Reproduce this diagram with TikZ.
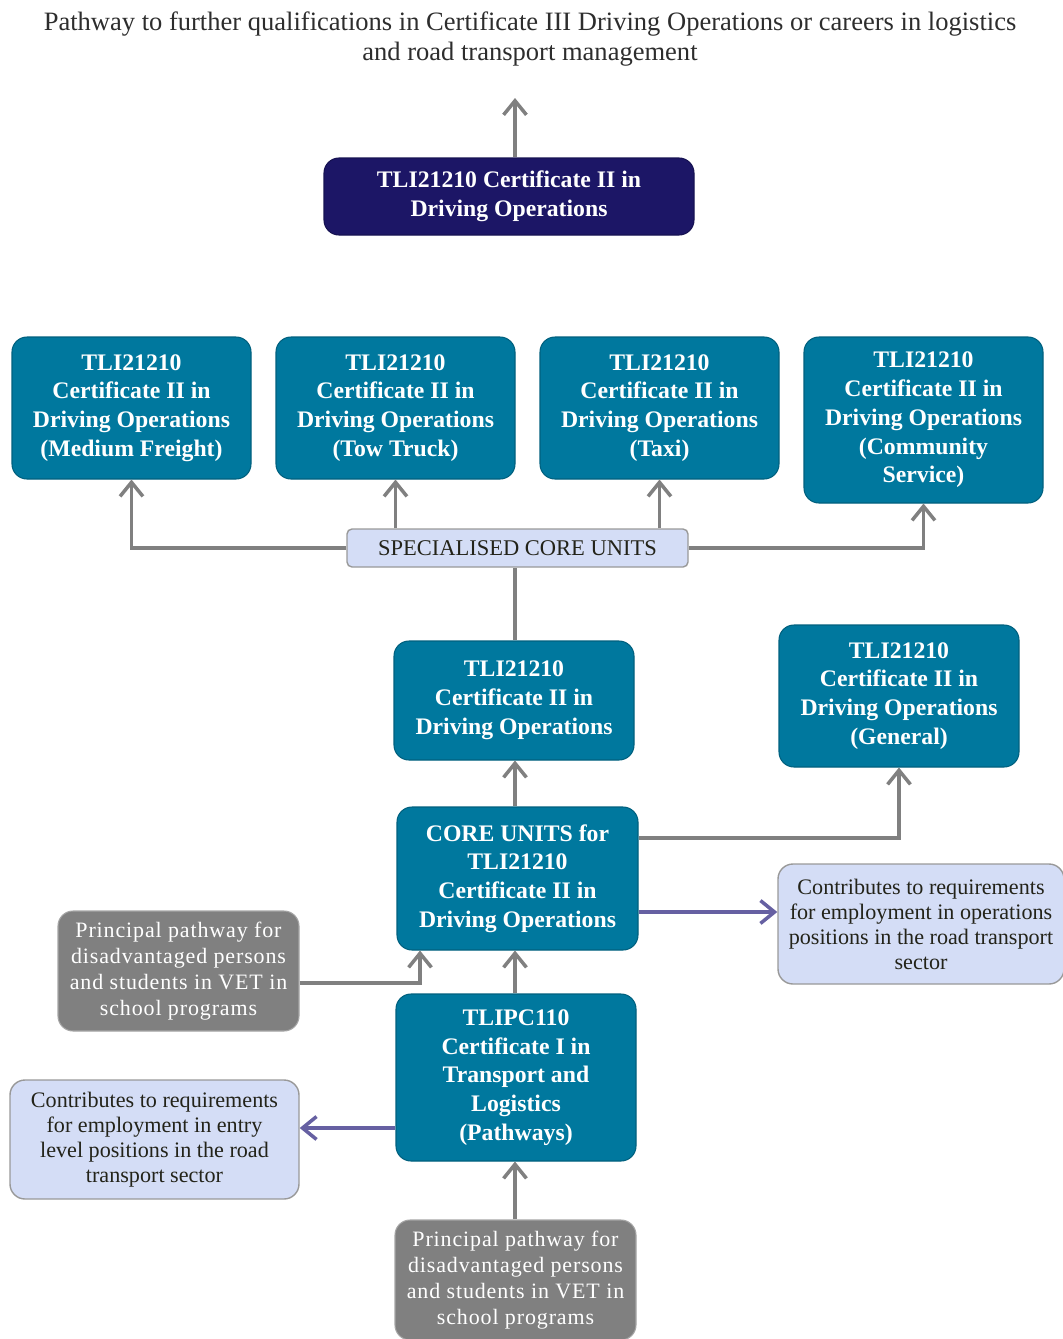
\documentclass[tikz,border=0pt]{standalone}
\usepackage{fontspec}
\setmainfont{Liberation Serif}
\usetikzlibrary{arrows.meta}

\definecolor{tealbox}{RGB}{0,120,158}
\definecolor{navybox}{RGB}{28,22,102}
\definecolor{lightbox}{RGB}{212,221,246}
\definecolor{greybox}{RGB}{128,128,128}
\definecolor{linegrey}{RGB}{128,128,128}
\definecolor{purpleline}{RGB}{102,96,162}

\begin{document}
\begin{tikzpicture}[x=0.02cm, y=-0.02cm,
    cert/.style={draw=tealbox!80!black, line width=0.6pt, fill=tealbox, rounded corners=0.3cm, text=white, align=center, inner sep=0pt,
        font=\fontsize{13.5}{16.4}\selectfont\bfseries},
    topcert/.style={cert, fill=navybox, draw=navybox!80!black},
    note/.style={draw=gray!80, line width=0.8pt, fill=lightbox, rounded corners=0.3cm, text={rgb,255:red,35;green,35;blue,25}, align=center, inner sep=0pt,
        font=\fontsize{12.6}{14.2}\selectfont},
    path/.style={draw=gray!70, line width=0.6pt, fill=greybox, rounded corners=0.3cm, text=white, align=center, inner sep=0pt,
        font=\fontsize{12.5}{14.7}\selectfont\addfontfeatures{LetterSpace=4}},
    link/.style={draw=linegrey, line width=2pt, -{Straight Barb[length=8pt,width=13pt]}},
    plink/.style={link, draw=purpleline},
]
    \useasboundingbox (0,0) rectangle (1062,1339);

    % Title at the top
    \node[align=center, text={rgb,255:red,45;green,45;blue,45}, font=\fontsize{15.1}{17}\selectfont] (title) at (530,39)
        {Pathway to further qualifications in Certificate III Driving Operations or careers in logistics\\and road transport management};
    \coordinate (toptip) at (515,98);

    % qualification boxes
    \node[topcert, minimum width=370*0.02cm, minimum height=77*0.02cm] (navy) at (509,196.5) {TLI21210 Certificate II in\\Driving Operations};
    \node[cert, minimum width=239*0.02cm, minimum height=142*0.02cm] (freight) at (131.5,408) {TLI21210\\Certificate II in\\Driving Operations\\(Medium Freight)};
    \node[cert, minimum width=239*0.02cm, minimum height=142*0.02cm] (tow) at (395.5,408) {TLI21210\\Certificate II in\\Driving Operations\\(Tow Truck)};
    \node[cert, minimum width=239*0.02cm, minimum height=142*0.02cm] (taxi) at (659.5,408) {TLI21210\\Certificate II in\\Driving Operations\\(Taxi)};
    \node[cert, minimum width=239*0.02cm, minimum height=166*0.02cm] (community) at (923.5,420) {TLI21210\\Certificate II in\\Driving Operations\\(Community\\Service)};
    \node[note, rounded corners=0.1cm, minimum width=341*0.02cm, minimum height=38*0.02cm, font=\fontsize{12.8}{14}\selectfont] (spec) at (517.5,548) {SPECIALISED CORE UNITS};
    \node[cert, minimum width=240*0.02cm, minimum height=119*0.02cm] (driving) at (514,700.5) {TLI21210\\Certificate II in\\Driving Operations};
    \node[cert, minimum width=240*0.02cm, minimum height=142*0.02cm] (general) at (899,696) {TLI21210\\Certificate II in\\Driving Operations\\(General)};
    \node[cert, minimum width=241*0.02cm, minimum height=143*0.02cm] (core) at (517.5,878.5) {CORE UNITS for\\TLI21210\\Certificate II in\\Driving Operations};
    \node[note, minimum width=286*0.02cm, minimum height=120*0.02cm] (opsjobs) at (921,924) {Contributes to requirements\\for employment in operations\\positions in the road transport\\sector};
    \node[path, minimum width=241*0.02cm, minimum height=120*0.02cm] (pathleft) at (178.5,971) {Principal pathway for\\disadvantaged persons\\and students in VET in\\school programs};
    \node[cert, minimum width=240*0.02cm, minimum height=167*0.02cm] (pathways) at (516,1077.5) {TLIPC110\\Certificate I in\\Transport and\\Logistics\\(Pathways)};
    \node[note, minimum width=289*0.02cm, minimum height=119*0.02cm] (entryjobs) at (154.5,1139.5) {Contributes to requirements\\for employment in entry\\level positions in the road\\transport sector};
    \node[path, minimum width=241*0.02cm, minimum height=120*0.02cm] (pathbottom) at (515.5,1280) {Principal pathway for\\disadvantaged persons\\and students in VET in\\school programs};

    % arrows from the specialised core units
    \draw[link] (navy.north -| toptip) -- (toptip);
    \draw[link] (spec.west) -| (freight.south);
    \draw[link] (spec.north -| tow.south) -- (tow.south);
    \draw[link] (spec.north -| taxi.south) -- (taxi.south);
    \draw[link] (spec.east) -| (community.south);
    \draw[link, -] (driving.north -| toptip) -- (spec.south -| toptip);

    % arrows from the core units
    \draw[link] (core.north -| toptip) -- (driving.south -| toptip);
    \draw[link] ([yshift=0.81cm]core.east) -| (general.south);
    \draw[plink] ([yshift=-0.67cm]core.east) -- ([yshift=-0.67cm]core.east -| opsjobs.west);

    % pathways into the core units
    \draw[link] ([yshift=-0.24cm]pathleft.east) -| ([xshift=-1.95cm]core.south);
    \draw[link] (pathways.north -| toptip) -- (core.south -| toptip);
    \draw[plink] ([yshift=-1.01cm]pathways.west) -- ([yshift=-1.01cm]pathways.west -| entryjobs.east);
    \draw[link] (pathbottom.north -| toptip) -- (pathways.south -| toptip);

\end{tikzpicture}
\end{document}
